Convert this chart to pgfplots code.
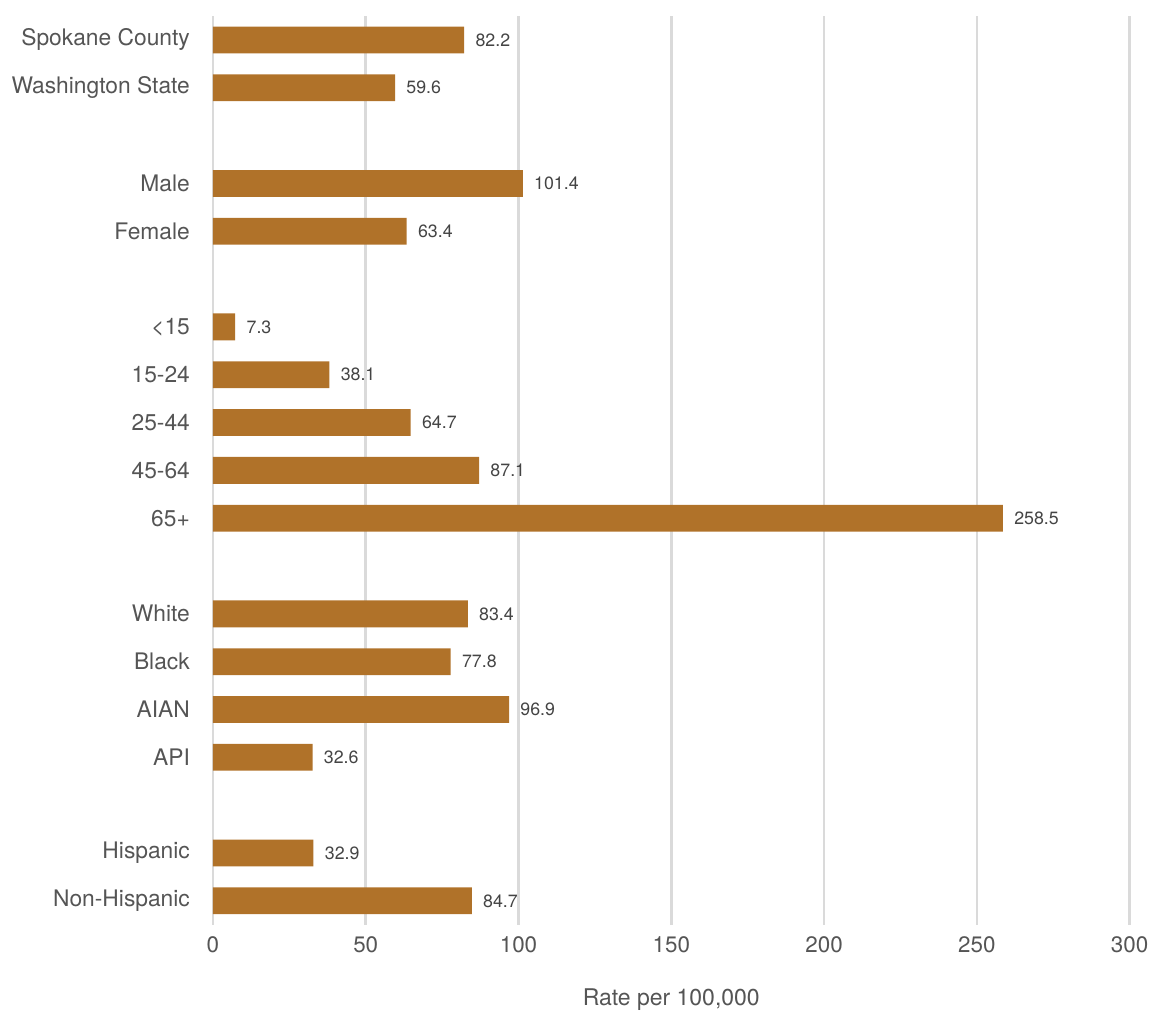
\documentclass[border=0pt]{standalone}
\usepackage{fontspec}
\setmainfont{TeX Gyre Heros}
\usepackage{pgfplots}
\pgfplotsset{compat=1.18}
\definecolor{barc}{HTML}{B07229}
\definecolor{gridc}{HTML}{DADADA}
\definecolor{labc}{HTML}{555555}
\definecolor{valc}{HTML}{444444}
\begin{document}
\begin{tikzpicture}
\begin{axis}[
  name=ax,
  scale only axis, width=458.5pt, height=454.5pt,
  xbar, bar width=0.56, y dir=reverse,
  xmin=0, xmax=300, ymin=-0.5, ymax=18.5,
  xtick={0,50,...,300},
  ytick={0,1,3,4,6,7,8,9,10,12,13,14,15,17,18},
  yticklabels={Spokane County, Washington State, Male, Female, <15, 15-24, 25-44, 45-64, 65+, White, Black, AIAN, API, Hispanic, Non-Hispanic},
  major tick length=0,
  axis line style={draw=none},
  xmajorgrids, grid style={gridc, line width=1.3pt},
  /pgf/number format/assume math mode=true,
  xticklabel style={font=\fontsize{11.2}{13}\selectfont, text=labc, yshift=-2.5pt},
  yticklabel style={font=\fontsize{11.4}{13}\selectfont, text=labc, xshift=-8pt},
  xlabel={Rate per 100,000},
  xlabel style={font=\fontsize{11.5}{13}\selectfont, text=labc, at={(axis description cs:0.5,0)}, anchor=center, yshift=-37.5pt},
  nodes near coords,
  point meta=x,
  nodes near coords style={font=\fontsize{8.9}{10}\selectfont, text=valc, anchor=west, inner sep=0pt, xshift=5.5pt,
    /pgf/number format/fixed, /pgf/number format/fixed zerofill, /pgf/number format/precision=1,
    /pgf/number format/assume math mode=true},
]
\addplot[fill=barc, draw=none] coordinates {
  (82.2,0) (59.6,1)
  (101.4,3) (63.4,4)
  (7.3,6) (38.1,7) (64.7,8) (87.1,9) (258.5,10)
  (83.4,12) (77.8,13) (96.9,14) (32.6,15)
  (32.9,17) (84.7,18)
};
\end{axis}
\path (ax.south west) ++(-106.5pt,-44pt) rectangle ++(577.5pt,506.5pt);
\end{tikzpicture}
\end{document}
